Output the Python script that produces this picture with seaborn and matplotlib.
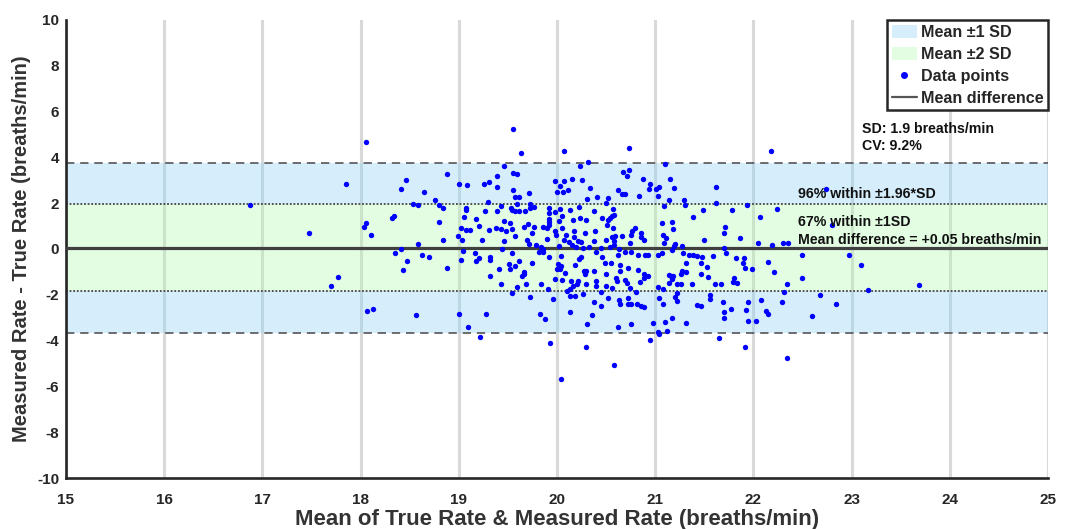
import matplotlib
matplotlib.use("Agg")
import matplotlib.pyplot as plt
import seaborn as sns
from matplotlib.patches import Patch
from matplotlib.lines import Line2D

# Mean of true & measured rate (x) and measured - true difference (y), breaths/min
mean_rate = [
    16.87, 17.47, 17.70, 17.77, 17.85, 18.05, 18.03, 18.06, 18.11, 18.07, 18.13, 18.32, 18.34,
    18.35, 18.41, 18.41, 18.43, 18.46, 18.47, 18.53, 18.56, 18.58, 18.58, 18.63, 18.65, 18.70,
    18.76, 18.80, 18.80, 18.84, 18.84, 18.88, 18.88,
    # 19.0 - 20.4, upper half
    19.55, 19.63, 20.07, 20.32, 20.23, 19.46, 19.55, 19.59, 19.39, 19.00, 19.08, 19.26, 19.31,
    19.39, 19.98, 20.07, 20.03, 20.15, 20.25, 20.34, 19.55, 19.71, 20.00, 20.06, 20.11, 19.57,
    19.61, 19.30, 19.59, 19.73, 20.31, 20.41, 19.43, 19.07, 19.07, 19.53, 19.54, 19.57, 19.61,
    19.67, 19.72, 19.77, 19.92, 19.92, 19.98, 20.03, 20.05, 20.13, 20.22, 20.38, 19.27, 19.39,
    19.05, 19.18, 19.46, 19.52, 19.70, 19.92, 19.92, 19.92, 20.02, 20.16, 20.23, 20.30, 19.21,
    19.02, 19.07, 19.11, 19.31, 19.38, 19.43, 19.48, 19.54, 19.66, 19.77, 19.86, 19.90, 19.98,
    20.05, 20.09, 20.17, 20.29, 20.39, 18.99, 19.03, 19.24, 19.46, 19.57, 19.75, 19.69, 19.71,
    19.79, 19.90, 19.99, 20.07, 20.12, 20.15, 20.17, 20.21, 20.24, 20.19, 20.26, 20.33, 20.38,
    19.84, 19.86, 20.02, 19.44,
    # 19.0 - 20.4, lower half
    19.02, 19.17, 19.04, 19.18, 19.21, 19.32, 19.32, 19.54, 19.61, 19.51, 19.57, 19.52, 19.41,
    19.75, 19.66, 19.66, 19.64, 19.32, 19.82, 19.86, 19.92, 20.04, 20.01, 20.00, 20.04, 20.03,
    20.08, 20.18, 20.22, 20.24, 20.27, 20.30, 20.29, 20.38, 20.40, 19.43, 19.59, 19.68, 19.84,
    19.91, 19.98, 20.05, 20.14, 20.21, 20.20, 20.16, 20.13, 20.10, 20.30, 20.40, 20.40, 19.54,
    19.73, 19.96, 20.13, 20.18, 20.26, 20.38, 19.00, 19.28, 19.83, 19.88, 20.13, 20.36, 20.31,
    19.09, 19.22, 19.93, 20.30, 20.04,
    # 20.4 - 22.0, upper half
    20.73, 21.10, 20.67, 20.73, 20.71, 20.88, 20.95, 20.94, 21.01, 21.04, 21.15, 21.19, 20.62,
    20.66, 20.69, 20.84, 21.03, 21.14, 21.29, 21.30, 21.62, 21.62, 21.93, 20.50, 20.52, 21.09,
    20.57, 21.49, 21.78, 21.39, 20.58, 20.56, 20.54, 20.52, 20.46, 20.51, 21.07, 21.17, 21.18,
    20.79, 20.76, 20.75, 20.57, 20.86, 20.86, 20.89, 20.66, 20.59, 20.56, 20.58, 20.58, 20.50,
    20.74, 20.54, 21.08, 21.11, 21.09, 21.20, 21.19, 21.27, 21.17, 21.71, 21.70, 21.50, 21.86,
    21.70, 20.45, 20.63,
    # 20.4 - 22.0, lower half
    20.46, 20.49, 20.55, 20.62, 20.64, 20.69, 20.75, 20.82, 20.90, 20.93, 21.03, 21.07, 20.64,
    20.72, 20.50, 20.60, 20.61, 20.69, 20.71, 20.74, 20.56, 20.50, 20.82, 20.89, 20.93, 20.89,
    20.85, 20.80, 20.45, 20.52, 20.63, 20.64, 20.72, 20.72, 20.75, 20.81, 20.86, 20.89, 20.45,
    21.03, 21.08, 21.04, 21.08, 21.14, 21.16, 21.18, 21.17, 21.14, 21.22, 21.26, 21.26, 21.27,
    21.31, 21.31, 21.28, 21.34, 21.39, 21.43, 21.48, 21.59, 21.72, 21.47, 21.53, 21.54, 21.47,
    21.37, 21.61, 21.67, 21.79, 21.80, 21.83, 21.82, 21.90, 21.89, 21.91, 21.22, 21.20, 21.22,
    21.56, 21.56, 21.43, 21.47, 21.69, 21.70, 21.70, 21.77, 21.95, 21.92, 21.95, 21.17, 21.10,
    21.31, 20.98, 20.75, 20.62, 21.03, 21.04, 21.12, 20.95, 21.65, 21.91, 20.58,
    # 22.0 and above
    22.18, 22.74, 22.24, 22.07, 22.80, 22.05, 22.19, 22.30, 22.35,
    21.99, 22.15, 22.21, 22.49, 22.49, 22.34, 22.31, 22.97, 23.10, 23.17, 22.68, 22.84, 22.08,
    22.29, 22.13, 22.15, 22.03, 22.60, 22.34, 23.69,
]

rate_diff = [
    1.91, 0.68, -1.61, -1.22, 2.86, 4.67, 0.96, 1.15, 0.63, -2.70, -2.63, 1.35, 1.43,
    -0.18, 2.62, -0.01, -0.91, 3.01, -0.53, 1.98, -2.88, 1.94, 0.24, -0.28, 2.51, -0.37,
    2.15, 1.94, 1.18, 1.79, 0.38, 3.28, -0.85,
    5.24, 4.20, 4.26, 3.82, 3.61, 3.64, 3.33, 3.29, 3.19, 2.82, 2.79, 2.82, 2.91,
    2.69, 2.98, 2.98, 2.73, 3.07, 3.01, 2.66, 2.57, 2.45, 2.47, 2.47, 2.56, 2.28,
    2.28, 2.07, 1.96, 1.97, 2.18, 2.25, 1.88, 1.78, 1.69, 1.78, 1.69, 1.65, 1.67,
    1.65, 1.79, 1.82, 1.79, 1.59, 1.63, 1.73, 1.43, 1.69, 1.82, 1.65, 1.65, 1.66,
    1.38, 1.32, 1.21, 1.12, 1.09, 1.32, 1.18, 1.06, 1.23, 1.25, 1.35, 1.28, 1.01,
    0.91, 0.85, 0.85, 0.81, 0.91, 0.87, 0.77, 0.88, 0.96, 0.94, 0.94, 0.91, 0.77,
    0.91, 0.62, 0.79, 0.68, 0.78, 0.56, 0.41, 0.41, 0.33, 0.55, 0.68, 0.38, 0.21,
    0.19, 0.43, 0.59, 0.41, 0.30, 0.19, 0.53, 0.34, 0.31, 0.09, 0.06, 0.09, 0.35,
    0.09, -0.01, 0.11, 0.00,
    -0.47, -0.19, -0.10, -0.53, -0.41, -0.34, -0.48, -0.16, -0.51, -0.66, -0.75, -0.89, -0.88,
    -0.62, -1.01, -1.10, -1.20, -1.17, -0.15, -0.15, -0.35, -0.32, -0.64, -0.86, -0.76, -0.86,
    -1.06, -0.72, -0.45, -0.37, -0.94, -0.94, -1.10, -0.97, -0.15, -1.52, -1.66, -1.51, -1.52,
    -1.73, -1.33, -1.37, -1.38, -1.38, -1.52, -1.61, -1.76, -1.82, -1.51, -1.41, -1.61, -1.92,
    -2.10, -2.19, -2.04, -2.04, -1.98, -2.32, -2.86, -2.82, -2.85, -3.05, -2.76, -2.89, -3.29,
    -3.39, -3.86, -4.11, -4.29, -5.67,
    4.42, 3.70, 3.35, 3.47, 3.19, 3.04, 2.85, 2.64, 2.64, 2.72, 3.04, 2.66, 2.57,
    2.42, 2.40, 2.33, 2.31, 2.13, 2.13, 1.94, 2.69, 2.03, 1.93, 2.00, 2.22, 1.88,
    1.75, 1.70, 1.72, 1.38, 1.48, 1.45, 1.37, 1.25, 1.34, 1.04, 1.12, 1.18, 0.88,
    0.93, 0.78, 0.63, 0.90, 0.70, 0.52, 0.41, 0.56, 0.56, 0.52, 0.34, 0.19, 0.41,
    0.25, 0.09, 0.63, 0.48, 0.26, 0.22, 0.12, 0.15, -0.03, 0.96, 0.68, 0.38, 0.46,
    0.04, 0.04, 0.00,
    -0.37, -0.60, -0.60, -0.28, -0.72, -0.15, -0.11, -0.28, -0.25, -0.28, -0.28, -0.16, -0.95,
    -0.84, -1.11, -1.26, -1.41, -1.35, -1.50, -1.69, -1.70, -1.60, -0.92, -1.10, -1.20, -1.28,
    -1.42, -1.86, -1.89, -2.16, -2.23, -2.42, -2.16, -2.39, -2.41, -2.41, -2.47, -2.52, -2.47,
    -1.64, -1.76, -2.16, -2.38, -1.13, -1.17, -1.17, -1.30, -1.47, -1.51, -1.52, -1.08, -0.98,
    -1.01, -0.62, -0.16, -0.28, -0.28, -0.31, -0.33, -0.31, -0.18, -0.59, -0.78, -1.22, -1.08,
    -1.52, -1.51, -1.51, -1.44, -1.28, -1.47, -0.38, -0.41, -0.62, -0.84, -1.91, -2.11, -2.25,
    -2.00, -2.19, -2.45, -2.48, -2.30, -2.76, -3.00, -2.64, -2.30, -2.67, -3.15, -3.02, -3.19,
    -3.23, -3.24, -3.27, -3.42, -3.63, -3.70, -3.60, -3.98, -3.90, -4.26, -5.08,
    4.29, 2.63, 1.75, 1.40, 1.06, 0.25, 0.16, 0.26, 0.26,
    -0.88, -0.56, -1.00, -0.28, -1.26, -1.52, -1.88, -0.28, -0.70, -1.78, -2.01, -2.39, -2.22,
    -2.32, -2.71, -2.82, -3.13, -2.94, -4.78, -1.57,
]

# Summary statistics shown on the chart
MEAN_DIFF = 0.05
SD = 1.9
CV = 9.2
PCT_WITHIN_196 = 96
PCT_WITHIN_1 = 67

x_ticks = list(range(15, 26))
y_ticks = list(range(-10, 11, 2))

sns.set_theme(style="white")
plt.rcParams['font.family'] = ['Liberation Sans', 'DejaVu Sans']
plt.rcParams['font.weight'] = 'bold'

DARK = '#262626'
BLUE_BAND = (0.54, 0.82, 0.97)
GREEN_BAND = (0.69, 0.98, 0.69)
BAND_ALPHA = 0.35

fig = plt.figure(figsize=(10.72, 5.29), dpi=100)
ax = fig.add_axes([66 / 1072, 1 - 478 / 529, 982 / 1072, 458 / 529])

hi2, lo2 = MEAN_DIFF + 1.96 * SD, MEAN_DIFF - 1.96 * SD
hi1, lo1 = MEAN_DIFF + SD, MEAN_DIFF - SD

# Agreement bands
ax.axhspan(hi1, hi2, color=BLUE_BAND, alpha=BAND_ALPHA, lw=0, zorder=1)
ax.axhspan(lo2, lo1, color=BLUE_BAND, alpha=BAND_ALPHA, lw=0, zorder=1)
ax.axhspan(lo1, hi1, color=GREEN_BAND, alpha=BAND_ALPHA, lw=0, zorder=1)

# Limit lines and mean difference
for yv in (hi2, lo2):
    ax.axhline(yv, color='#555555', lw=1.2, ls=(0, (5, 3.5)), zorder=2)
for yv in (hi1, lo1):
    ax.axhline(yv, color='#444444', lw=1.3, ls=(0, (1, 1)), zorder=2)
ax.axhline(MEAN_DIFF, color='#404040', lw=2.3, zorder=3)

sns.scatterplot(x=mean_rate, y=rate_diff, color='#0000ff', s=15, linewidth=0,
                ax=ax, zorder=4, legend=False)

ax.set_xlim(15, 25)
ax.set_ylim(-10, 10)
ax.set_xticks(x_ticks)
ax.set_yticks(y_ticks)
ax.set_xticklabels([str(t) for t in x_ticks], fontweight='bold')
ax.set_yticklabels([str(t) for t in y_ticks], fontweight='bold')

ax.set_axisbelow(True)
ax.xaxis.grid(True, color='#d9d9d9', lw=2.2)
ax.yaxis.grid(False)
for side in ('top', 'right'):
    ax.spines[side].set_visible(False)
for side in ('left', 'bottom'):
    ax.spines[side].set_linewidth(1.9)
    ax.spines[side].set_color(DARK)
ax.tick_params(direction='in', length=7, width=1.6, colors=DARK, labelsize=11)
ax.tick_params(axis='x', pad=11)
ax.tick_params(axis='y', pad=5)

ax.set_xlabel('Mean of True Rate & Measured Rate (breaths/min)', fontsize=16,
              fontweight='bold', color='#333333', labelpad=1)
ax.set_ylabel('Measured Rate - True Rate (breaths/min)', fontsize=14.5,
              fontweight='bold', color='#333333', labelpad=4)

# Annotations
txt = dict(fontsize=10.2, fontweight='bold', color='#111111', zorder=5)
ax.text(23.11, 5.25, f'SD: {SD} breaths/min', va='center', **txt)
ax.text(23.11, 4.51, f'CV: {CV}%', va='center', **txt)
ax.text(22.45, 2.40, f'{PCT_WITHIN_196}% within \u00b11.96*SD', va='center', **txt)
ax.text(22.45, 1.18, f'{PCT_WITHIN_1}% within \u00b11SD', va='center', **txt)
ax.text(22.45, 0.41, f'Mean difference = +{MEAN_DIFF} breaths/min', va='center', **txt)

handles = [
    Patch(facecolor=BLUE_BAND, alpha=BAND_ALPHA, lw=0),
    Patch(facecolor=GREEN_BAND, alpha=BAND_ALPHA, lw=0),
    Line2D([], [], marker='o', ls='none', color='#0000ff', markersize=4),
    Line2D([], [], color='#555555', lw=1.6),
]
labels = ['Mean \u00b11 SD', 'Mean \u00b12 SD', 'Data points', 'Mean difference']
leg = ax.legend(handles, labels, loc='upper right', bbox_to_anchor=(1.0, 1.0),
                borderaxespad=0, frameon=True, fancybox=False, framealpha=1,
                edgecolor=DARK, prop=dict(weight='bold', size=11.6),
                handlelength=1.55, handleheight=0.9, handletextpad=0.25,
                labelspacing=0.42, borderpad=0.28)
leg.get_frame().set_linewidth(1.8)
leg.set_zorder(6)

fig.savefig('out.png', dpi=100)
